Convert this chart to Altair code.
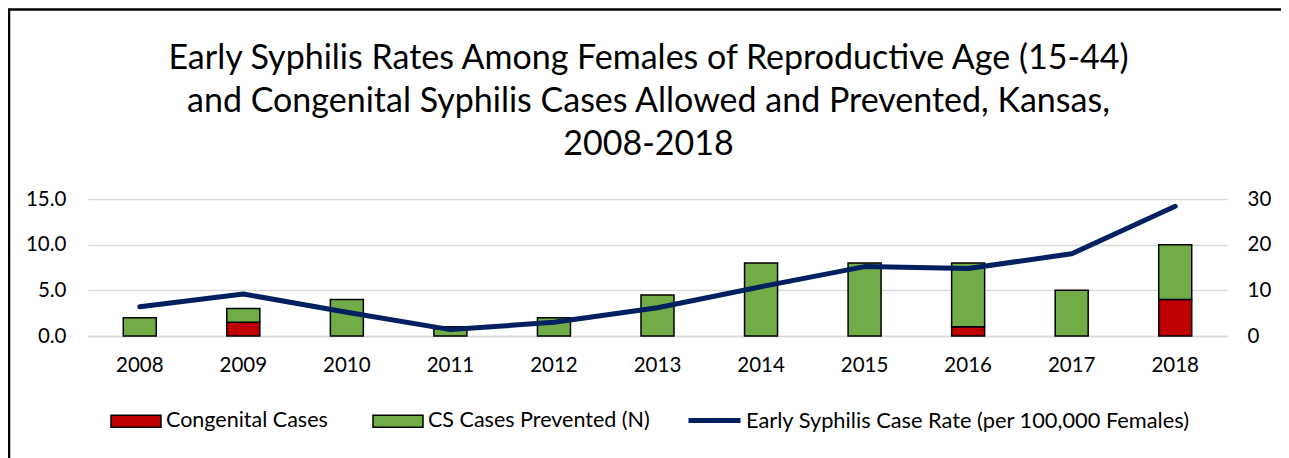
import altair as alt
import pandas as pd

years = ["2008", "2009", "2010", "2011", "2012", "2013", "2014", "2015", "2016", "2017", "2018"]
congenital = [0, 3, 0, 0, 0, 0, 0, 0, 2, 0, 8]
prevented = [4, 3, 8, 2, 4, 9, 16, 16, 14, 10, 12]
rate = [3.2, 4.6, 2.6, 0.7, 1.5, 3.1, 5.4, 7.6, 7.4, 9.0, 14.2]

bar_series = ["Congenital Cases", "CS Cases Prevented (N)"]
bar_colors = ["#C00000", "#70AD47"]
line_name = "Early Syphilis Case Rate (per 100,000 Females)"
line_color = "#002060"

title_lines = [
    "Early Syphilis Rates Among Females of Reproductive Age (15-44)",
    "and Congenital Syphilis Cases Allowed and Prevented, Kansas,",
    "2008-2018",
]

rows = []
for i, y in enumerate(years):
    rows.append({"year": y, "series": bar_series[0], "value": congenital[i], "ord": 0})
    rows.append({"year": y, "series": bar_series[1], "value": prevented[i], "ord": 1})
bars_df = pd.DataFrame(rows)
line_df = pd.DataFrame({"year": years, "rate": rate, "series": [line_name] * len(years)})

FONT = "Lato"
W, H = 1139, 137
LBL = 20.5

x_enc = alt.X(
    "year:N",
    sort=years,
    scale=alt.Scale(paddingInner=0, paddingOuter=0),
    axis=alt.Axis(title=None, labelAngle=0, ticks=False, labelPadding=19,
                  labelFontSize=LBL, labelColor="#000000",
                  domainColor="#D9D9D9", domainWidth=1.5),
)

bars = alt.Chart(bars_df).transform_filter("datum.value > 0").mark_bar(
    size=33, stroke="black", strokeWidth=1.5
).encode(
    x=x_enc,
    y=alt.Y("value:Q", stack="zero", scale=alt.Scale(domain=[0, 30]),
            axis=alt.Axis(orient="right", values=[0, 10, 20, 30], title=None,
                          grid=False, ticks=False, domain=False, labelPadding=20,
                          labelFontSize=LBL, labelColor="#000000")),
    fill=alt.Fill("series:N", scale=alt.Scale(domain=bar_series, range=bar_colors),
                  legend=alt.Legend(orient="none", legendX=22, legendY=196, direction="horizontal",
                                    title=None, symbolType="M-1,-0.24H1V0.24H-1Z", symbolSize=2500,
                                    symbolStrokeColor="black", symbolStrokeWidth=1.5,
                                    labelFontSize=21.5, labelOffset=4, columnPadding=42, padding=0,
                                    labelLimit=1000)),
    order=alt.Order("ord:Q"),
)

line = alt.Chart(line_df).mark_line(strokeWidth=5, strokeCap="round", strokeJoin="round").encode(
    x=x_enc,
    y=alt.Y("rate:Q", scale=alt.Scale(domain=[0, 15]),
            axis=alt.Axis(orient="left", values=[0, 5, 10, 15], format=".1f", title=None,
                          grid=True, gridColor="#D9D9D9", gridWidth=1.5, ticks=False,
                          domain=False, labelPadding=22, labelFontSize=LBL, labelColor="#000000")),
    stroke=alt.Stroke("series:N", scale=alt.Scale(domain=[line_name], range=[line_color]),
                      legend=alt.Legend(orient="none", legendX=598, legendY=193, title=None,
                                        symbolType="stroke", symbolSize=2704, symbolStrokeWidth=5,
                                        labelFontSize=21.8, labelOffset=3, padding=0,
                                        labelLimit=1000)),
)

frame = alt.Chart(pd.DataFrame({"f": [0]})).mark_rect(
    fillOpacity=0, stroke="black", strokeWidth=2.5, clip=False
).encode(x=alt.value(-79), x2=alt.value(W + 60), y=alt.value(-189.5), y2=alt.value(400))

chart = alt.layer(frame, bars, line).resolve_scale(y="independent", fill="independent", stroke="independent").properties(
    width=W, height=H,
    autosize=alt.AutoSizeParams(type="none"),
    padding={"left": 80, "top": 191, "right": 54, "bottom": 122},
    title=alt.Title(title_lines, fontSize=34, font=FONT, fontWeight="normal", color="#000000",
                    lineHeight=43, anchor="middle", dx=-9, offset=-154),
).configure(font=FONT, background="white").configure_view(stroke=None).configure_axis(
    labelFont=FONT
).configure_legend(labelFont=FONT, labelColor="#000000")

chart.save("out.html", embed_options={"renderer": "svg", "actions": False})
